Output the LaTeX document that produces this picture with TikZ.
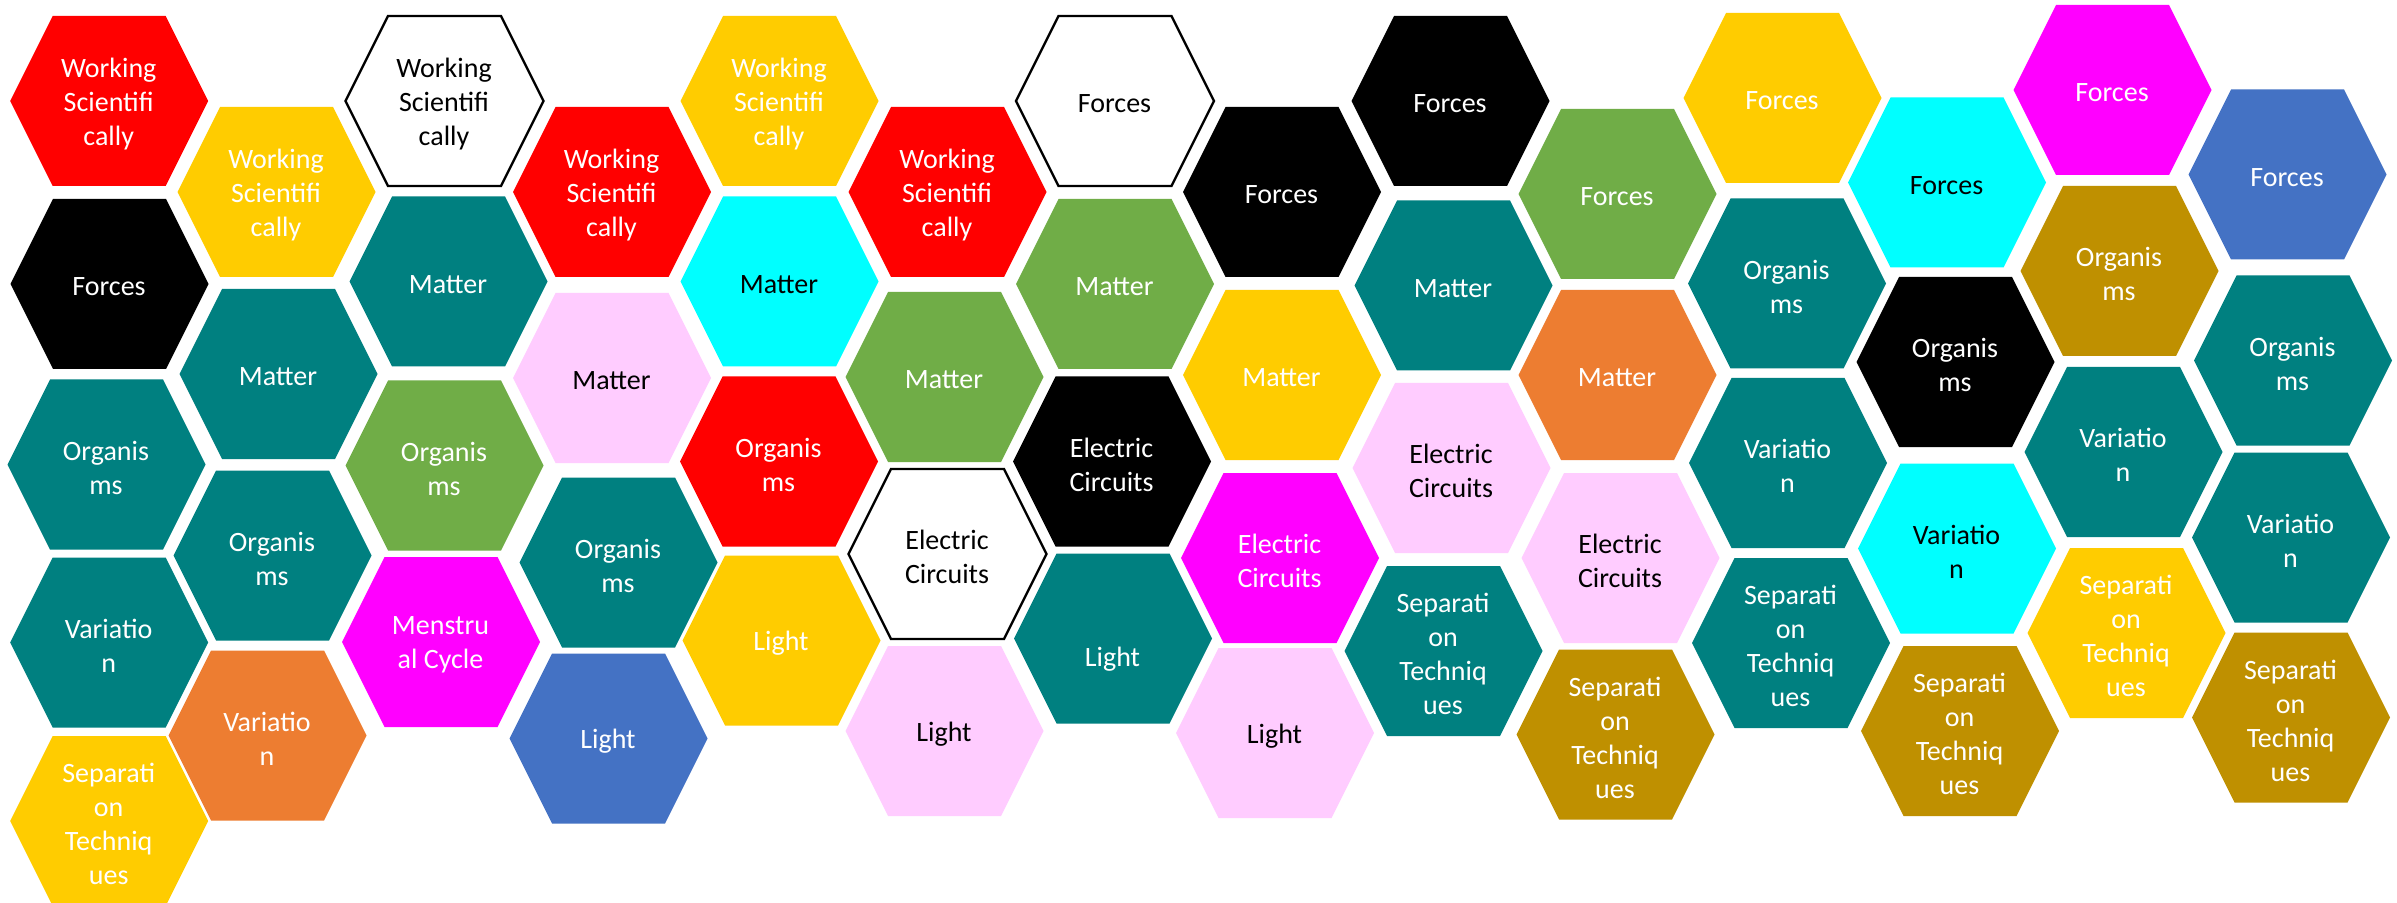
\documentclass[tikz,border=0pt]{standalone}
\usepackage{fontspec}
\setmainfont{Carlito}

\definecolor{hexred}{HTML}{FF0000}
\definecolor{hexyellow}{HTML}{FFCC00}
\definecolor{hexteal}{HTML}{008080}
\definecolor{hexgreen}{HTML}{70AD47}
\definecolor{hexorange}{HTML}{ED7D31}
\definecolor{hexcyan}{HTML}{00FFFF}
\definecolor{hexpink}{HTML}{FFCCFF}
\definecolor{hexmagenta}{HTML}{FF00FF}
\definecolor{hexblue}{HTML}{4472C4}
\definecolor{hexgold}{HTML}{BF9000}

\tikzset{
	redcell/.style = {fill = hexred},
	yellowcell/.style = {fill = hexyellow},
	tealcell/.style = {fill = hexteal},
	greencell/.style = {fill = hexgreen},
	orangecell/.style = {fill = hexorange},
	cyancell/.style = {fill = hexcyan},
	pinkcell/.style = {fill = hexpink},
	magentacell/.style = {fill = hexmagenta},
	bluecell/.style = {fill = hexblue},
	goldcell/.style = {fill = hexgold},
	blackcell/.style = {fill = black},
	whitecell/.style = {fill = white, draw = black, line width = 1.2pt},
	celltext/.style = {align = center, inner sep = 0pt, yshift = -1.5pt, font = \fontsize{14}{17}\selectfont}
}

% [text options] name, x, y, tile, text colour, text
\newcommand{\hexcell}[7][]{%
	\path [#5] (#3, #4) ++ (-98.5, 0) -- ++ (42.5, 85) -- ++ (113, 0) -- ++ (42.5, -85) -- ++ (-42.5, -85) -- ++ (-113, 0) -- cycle;
	\node [celltext, text = #6, #1] (#2) at (#3, #4) {#7};
}

\begin{document}
\begin{tikzpicture}[x = 0.5pt, y = -0.5pt]

	% Page
	
	\path [use as bounding box, fill = white] (0, 0) rectangle (2397, 903);

	% Column 1
	
	\hexcell{ws1}{108.7}{101}{redcell}{white}{Working\\Scientifi\\cally}
	\hexcell{forces1}{109}{284}{blackcell}{white}{Forces}
	\hexcell{org1}{106}{464.5}{tealcell}{white}{Organis\\ms}
	\hexcell{var1}{108.7}{642.5}{tealcell}{white}{Variatio\\n}
	\hexcell{sep1}{108.7}{821}{yellowcell}{white}{Separati\\on\\Techniq\\ues}
	
	% Column 2
	
	\hexcell{ws2}{276}{192}{yellowcell}{white}{Working\\Scientifi\\cally}
	\hexcell{matter2}{278}{374}{tealcell}{white}{Matter}
	\hexcell{org2}{272}{555.5}{tealcell}{white}{Organis\\ms}
	\hexcell{var2}{267}{735.5}{orangecell}{white}{Variatio\\n}
	
	% Column 3
	
	\hexcell{ws3}{444}{101}{whitecell}{black}{Working\\Scientifi\\cally}
	\hexcell{matter3}{448}{281.5}{tealcell}{white}{Matter}
	\hexcell{org3}{444}{465.5}{greencell}{white}{Organis\\ms}
	\hexcell{cycle3}{440.5}{642}{magentacell}{white}{Menstru\\al Cycle}
	
	% Column 4
	
	\hexcell{ws4}{611.5}{192}{redcell}{white}{Working\\Scientifi\\cally}
	\hexcell{matter4}{611.5}{378}{pinkcell}{black}{Matter}
	\hexcell{org4}{618}{562.5}{tealcell}{white}{Organis\\ms}
	\hexcell{light4}{608}{738.5}{bluecell}{white}{Light}
	
	% Column 5
	
	\hexcell{ws5}{779}{101}{yellowcell}{white}{Working\\Scientifi\\cally}
	\hexcell{matter5}{779}{281.5}{cyancell}{black}{Matter}
	\hexcell{org5}{778.5}{461.5}{redcell}{white}{Organis\\ms}
	\hexcell{light5}{781}{640.5}{yellowcell}{white}{Light}
	
	% Column 6
	
	\hexcell{ws6}{947}{192}{redcell}{white}{Working\\Scientifi\\cally}
	\hexcell{matter6}{944}{377}{greencell}{white}{Matter}
	\hexcell{circuits6}{947}{554}{whitecell}{black}{Electric\\Circuits}
	\hexcell{light6}{944}{731}{pinkcell}{black}{Light}
	
	% Column 7
	
	\hexcell{forces7}{1114.5}{101}{whitecell}{black}{Forces}
	\hexcell{matter7}{1114.5}{284}{greencell}{white}{Matter}
	\hexcell{circuits7}{1111.5}{461.5}{blackcell}{white}{Electric\\Circuits}
	\hexcell[yshift = -9pt]{light7}{1112.5}{638.5}{tealcell}{white}{Light}
	
	% Column 8
	
	\hexcell{forces8}{1281.5}{192}{blackcell}{white}{Forces}
	\hexcell{matter8}{1281.5}{375}{yellowcell}{white}{Matter}
	\hexcell{circuits8}{1279.5}{558}{magentacell}{white}{Electric\\Circuits}
	\hexcell{light8}{1274.5}{733}{pinkcell}{black}{Light}
	
	% Column 9
	
	\hexcell{forces9}{1450}{101}{blackcell}{white}{Forces}
	\hexcell{matter9}{1453}{285.5}{tealcell}{white}{Matter}
	\hexcell{circuits9}{1451}{468}{pinkcell}{black}{Electric\\Circuits}
	\hexcell{sep9}{1443}{651}{tealcell}{white}{Separati\\on\\Techniq\\ues}
	
	% Column 10
	
	\hexcell{forces10}{1617}{194}{greencell}{white}{Forces}
	\hexcell{matter10}{1617}{375}{orangecell}{white}{Matter}
	\hexcell{circuits10}{1620}{558}{pinkcell}{black}{Electric\\Circuits}
	\hexcell{sep10}{1615}{734.5}{goldcell}{white}{Separati\\on\\Techniq\\ues}
	
	% Column 11
	
	\hexcell{forces11}{1782}{98}{yellowcell}{white}{Forces}
	\hexcell{org11}{1786.5}{283.5}{tealcell}{white}{Organis\\ms}
	\hexcell{var11}{1787.5}{463}{tealcell}{white}{Variatio\\n}
	\hexcell{sep11}{1790.5}{643}{tealcell}{white}{Separati\\on\\Techniq\\ues}
	
	% Column 12
	
	\hexcell{forces12}{1946.5}{182.5}{cyancell}{black}{Forces}
	\hexcell{org12}{1955}{362}{blackcell}{white}{Organis\\ms}
	\hexcell{var12}{1956.5}{548.5}{cyancell}{black}{Variatio\\n}
	\hexcell{sep12}{1959.5}{731}{goldcell}{white}{Separati\\on\\Techniq\\ues}
	
	% Column 13
	
	\hexcell{forces13}{2112}{90}{magentacell}{white}{Forces}
	\hexcell{org13}{2119}{271}{goldcell}{white}{Organis\\ms}
	\hexcell{var13}{2123}{452}{tealcell}{white}{Variatio\\n}
	\hexcell{sep13}{2126}{633}{yellowcell}{white}{Separati\\on\\Techniq\\ues}
	
	% Column 14
	
	\hexcell{forces14}{2287}{174.5}{bluecell}{white}{Forces}
	\hexcell{org14}{2292.5}{360.5}{tealcell}{white}{Organis\\ms}
	\hexcell{var14}{2290.5}{537.5}{tealcell}{white}{Variatio\\n}
	\hexcell{sep14}{2290.5}{717.5}{goldcell}{white}{Separati\\on\\Techniq\\ues}

\end{tikzpicture}
\end{document}
